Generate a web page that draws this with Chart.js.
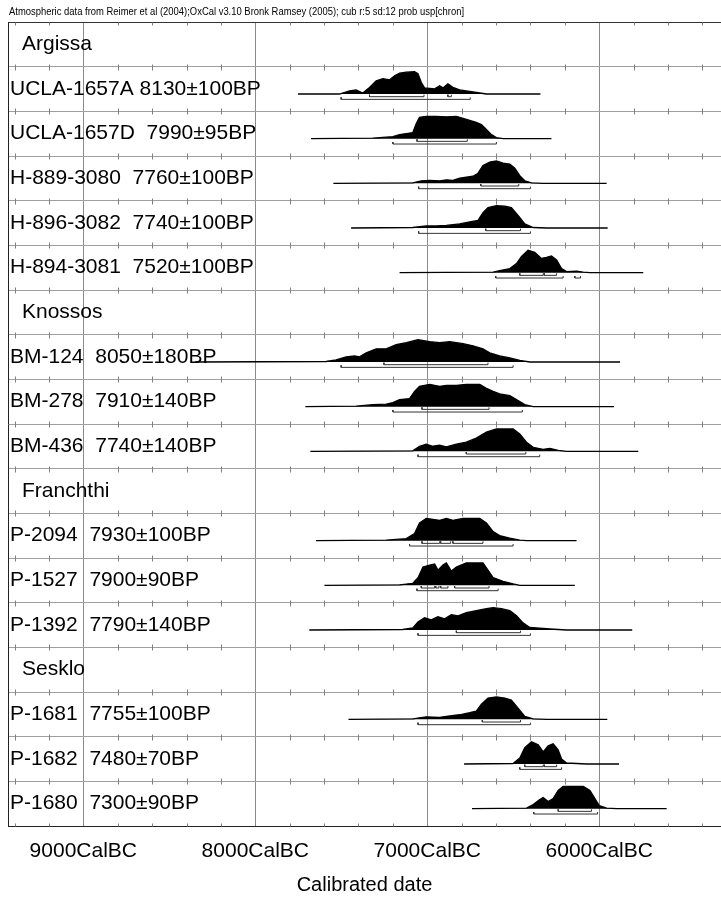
<!DOCTYPE html>
<html>
<head>
<meta charset="utf-8">
<script src="https://cdn.jsdelivr.net/npm/chart.js@4.4.1/dist/chart.umd.min.js"></script>
<style>
  html, body { margin: 0; padding: 0; background: #fff; }
  canvas { display: block; }
</style>
</head>
<body>
<canvas id="oxcal" width="721" height="899"></canvas>
<script>
const FONT = '"Liberation Sans", Arial, sans-serif';

const headerNote = "Atmospheric data from Reimer et al (2004);OxCal v3.10 Bronk Ramsey (2005); cub r:5 sd:12 prob usp[chron]";

// one entry per row, top to bottom
const rowLabels = [
  "Argissa",
  "UCLA-1657A 8130±100BP",
  "UCLA-1657D  7990±95BP",
  "H-889-3080  7760±100BP",
  "H-896-3082  7740±100BP",
  "H-894-3081  7520±100BP",
  "Knossos",
  "BM-124  8050±180BP",
  "BM-278  7910±140BP",
  "BM-436  7740±140BP",
  "Franchthi",
  "P-2094  7930±100BP",
  "P-1527  7900±90BP",
  "P-1392  7790±140BP",
  "Sesklo",
  "P-1681  7755±100BP",
  "P-1682  7480±70BP",
  "P-1680  7300±90BP"
];
const headerRows = [0, 6, 10, 14];

// cal BC
const tickYears = [9400, 9200, 9000, 8800, 8600, 8400, 8200, 8000, 7800, 7600, 7400,
                   7200, 7000, 6800, 6600, 6400, 6200, 6000, 5800, 5600, 5400];

// probability curves (years cal BC, relative height)
const uclaAYears = [7752, 7511, 7452, 7414, 7375, 7336, 7297, 7258, 7219, 7190, 7161, 7122, 7074, 7054, 7035, 7016, 6986, 6957, 6928, 6909, 6880, 6851, 6812, 6753, 6695, 6656, 6342];
const uclaAProb  = [0, 0, 6, 8, 2, 13, 26, 30, 28, 36, 41, 43, 44, 40, 23, 12, 11, 10, 16, 12, 20, 13, 8, 5, 2, 0, 0];
const uclaA68 = [[7336, 7019], [6880, 6860]];
const uclaA95 = [[7501, 6750]];

const uclaDYears = [7676, 7317, 7200, 7161, 7122, 7084, 7064, 7045, 7006, 6948, 6889, 6831, 6792, 6753, 6715, 6685, 6656, 6627, 6598, 6559, 6278];
const uclaDProb  = [0, 1, 4, 8, 10, 12, 30, 42, 44, 44, 43, 44, 40, 36, 32, 28, 18, 8, 2, 0, 0];
const uclaD68 = [[7060, 6767]];
const uclaD95 = [[7200, 6598]];

const h889Years = [7546, 7084, 7035, 6986, 6928, 6889, 6851, 6812, 6773, 6734, 6705, 6676, 6637, 6598, 6559, 6520, 6491, 6462, 6433, 6394, 6326, 5957];
const h889Prob  = [0, 1, 5, 6, 5, 7, 6, 10, 12, 14, 20, 35, 42, 44, 40, 38, 30, 15, 5, 1, 0, 0];
const h889R68 = [[6689, 6468]];
const h889R95 = [[7050, 6400]];

const h896Years = [7443, 7084, 7006, 6948, 6889, 6812, 6753, 6705, 6676, 6647, 6598, 6549, 6511, 6472, 6433, 6384, 6307, 5951];
const h896Prob  = [0, 1, 4, 4, 5, 8, 12, 15, 30, 40, 44, 43, 40, 25, 8, 1, 0, 0];
const h896R68 = [[6660, 6458]];
const h896R95 = [[7050, 6400]];

const h894Years = [7161, 6617, 6579, 6520, 6481, 6452, 6414, 6375, 6336, 6307, 6278, 6248, 6219, 6190, 6132, 6093, 6054, 5744];
const h894Prob  = [0, 1, 4, 8, 18, 32, 44, 40, 28, 30, 33, 25, 8, 2, 3, 1, 0, 0];
const h894R68 = [[6462, 6326], [6320, 6248]];
const h894R95 = [[6602, 6210], [6142, 6109]];

const bm124Years = [8350, 7588, 7530, 7472, 7423, 7394, 7355, 7297, 7239, 7181, 7122, 7054, 6986, 6928, 6870, 6792, 6734, 6676, 6637, 6579, 6520, 6462, 6404, 5879];
const bm124Prob  = [0, 1, 4, 10, 12, 10, 18, 26, 26, 34, 38, 44, 40, 38, 40, 36, 32, 26, 18, 12, 8, 3, 0, 0];
const bm124R68 = [[7252, 6647]];
const bm124R95 = [[7501, 6501]];

const bm278Years = [7709, 7414, 7317, 7239, 7200, 7161, 7103, 7074, 7045, 6986, 6928, 6889, 6831, 6773, 6695, 6656, 6617, 6579, 6520, 6472, 6433, 6384, 5914];
const bm278Prob  = [0, 1, 4, 5, 8, 14, 16, 30, 40, 44, 40, 42, 42, 44, 44, 36, 30, 25, 22, 12, 4, 0, 0];
const bm278R68 = [[7031, 6641]];
const bm278R95 = [[7200, 6447]];

const bm436Years = [7680, 7084, 7045, 7006, 6967, 6928, 6889, 6831, 6773, 6715, 6656, 6598, 6501, 6462, 6423, 6384, 6326, 6287, 6239, 6190, 5773];
const bm436Prob  = [0, 1, 10, 14, 10, 12, 9, 14, 18, 26, 38, 44, 44, 34, 18, 8, 4, 6, 2, 0, 0];
const bm436R68 = [[6773, 6427]];
const bm436R95 = [[7054, 6346]];

const p2094Years = [7647, 7239, 7122, 7074, 7045, 7006, 6967, 6928, 6889, 6851, 6792, 6695, 6656, 6617, 6579, 6520, 6462, 6423, 6132];
const p2094Prob  = [0, 1, 4, 14, 35, 44, 42, 40, 44, 40, 44, 44, 35, 18, 10, 5, 1, 0, 0];
const p2094R68 = [[7031, 6928], [6922, 6864], [6851, 6676]];
const p2094R95 = [[7103, 6501]];

const p1527Years = [7598, 7161, 7084, 7054, 7025, 6986, 6957, 6938, 6909, 6889, 6860, 6831, 6773, 6676, 6647, 6617, 6559, 6501, 6462, 6142];
const p1527Prob  = [0, 1, 4, 15, 36, 40, 42, 30, 40, 44, 28, 36, 44, 44, 30, 15, 8, 3, 0, 0];
const p1527R68 = [[7035, 6957], [6951, 6932], [6922, 6880], [6841, 6641]];
const p1527R95 = [[7060, 6588]];

const p1392Years = [7686, 7142, 7084, 7054, 7016, 6977, 6938, 6899, 6860, 6821, 6773, 6715, 6656, 6617, 6569, 6520, 6481, 6443, 6404, 6287, 6190, 5808];
const p1392Prob  = [0, 1, 4, 16, 24, 20, 26, 22, 30, 28, 34, 38, 42, 44, 42, 38, 28, 14, 5, 2, 0, 0];
const p1392R68 = [[6831, 6458]];
const p1392R95 = [[7054, 6400]];

const p1681Years = [7458, 7084, 7006, 6928, 6889, 6812, 6753, 6715, 6685, 6647, 6598, 6549, 6511, 6472, 6433, 6384, 6307, 5953];
const p1681Prob  = [0, 1, 5, 4, 6, 9, 13, 16, 30, 42, 44, 42, 38, 22, 6, 1, 0, 0];
const p1681R68 = [[6680, 6458]];
const p1681R95 = [[7054, 6400]];

const p1682Years = [6786, 6501, 6462, 6433, 6394, 6355, 6326, 6297, 6268, 6239, 6219, 6190, 6132, 6074, 5885];
const p1682Prob  = [0, 1, 12, 32, 44, 38, 24, 36, 40, 28, 10, 2, 1, 0, 0];
const p1682R68 = [[6433, 6326], [6320, 6248]];
const p1682R95 = [[6462, 6219]];

const p1680Years = [6740, 6423, 6384, 6346, 6326, 6297, 6268, 6239, 6210, 6093, 6054, 6025, 6000, 5957, 5899, 5608];
const p1680Prob  = [0, 1, 8, 18, 22, 14, 20, 36, 44, 44, 36, 20, 6, 1, 0, 0];
const p1680R68 = [[6239, 6045]];
const p1680R95 = [[6381, 6010]];

const samples = [
  { row: 1,  years: uclaAYears, prob: uclaAProb, r68: uclaA68, r95: uclaA95 },
  { row: 2,  years: uclaDYears, prob: uclaDProb, r68: uclaD68, r95: uclaD95 },
  { row: 3,  years: h889Years,  prob: h889Prob,  r68: h889R68, r95: h889R95 },
  { row: 4,  years: h896Years,  prob: h896Prob,  r68: h896R68, r95: h896R95 },
  { row: 5,  years: h894Years,  prob: h894Prob,  r68: h894R68, r95: h894R95 },
  { row: 7,  years: bm124Years, prob: bm124Prob, r68: bm124R68, r95: bm124R95 },
  { row: 8,  years: bm278Years, prob: bm278Prob, r68: bm278R68, r95: bm278R95 },
  { row: 9,  years: bm436Years, prob: bm436Prob, r68: bm436R68, r95: bm436R95 },
  { row: 11, years: p2094Years, prob: p2094Prob, r68: p2094R68, r95: p2094R95 },
  { row: 12, years: p1527Years, prob: p1527Prob, r68: p1527R68, r95: p1527R95 },
  { row: 13, years: p1392Years, prob: p1392Prob, r68: p1392R68, r95: p1392R95 },
  { row: 15, years: p1681Years, prob: p1681Prob, r68: p1681R68, r95: p1681R95 },
  { row: 16, years: p1682Years, prob: p1682Prob, r68: p1682R68, r95: p1682R95 },
  { row: 17, years: p1680Years, prob: p1680Prob, r68: p1680R68, r95: p1680R95 }
];

// row geometry, in row units
const BASE = 0.612;   // baseline of curve inside the row
const PEAK = 0.5;     // height of the tallest point
const OFF68 = 0.06, OFF95 = 0.12, CAP = 0.045;

const datasets = [];
samples.forEach(s => {
  const base = s.row + BASE;
  const top = Math.max(...s.prob);
  datasets.push({
    data: s.years.map((yr, i) => ({ x: yr, y: base - s.prob[i] / top * PEAK })),
    showLine: true,
    fill: { value: base },
    borderColor: '#000',
    backgroundColor: '#000',
    borderWidth: 1.3,
    pointRadius: 0,
    tension: 0
  });
  [[s.r68, OFF68], [s.r95, OFF95]].forEach(([ranges, off]) => {
    const y = base + off;
    const pts = [];
    ranges.forEach(([a, b]) => {
      pts.push({ x: a, y: y - CAP }, { x: a, y: y }, { x: b, y: y }, { x: b, y: y - CAP }, { x: b, y: null });
    });
    datasets.push({
      data: pts,
      showLine: true,
      fill: false,
      borderColor: '#333',
      borderWidth: 1,
      pointRadius: 0,
      spanGaps: false
    });
  });
});

// small tick marks along every row line
const rowTicks = {
  id: 'rowTicks',
  beforeDatasetsDraw(chart) {
    const { ctx, scales: { x, y } } = chart;
    const n = rowLabels.length;
    ctx.save();
    ctx.strokeStyle = '#808080';
    ctx.lineWidth = 1;
    for (let k = 0; k <= n; k++) {
      const py = Math.round(y.getPixelForValue(k)) + 0.5;
      const up = k === 0 ? 0 : 3;
      const down = k === n ? 0 : 3;
      tickYears.forEach(t => {
        if (t % 1000 === 0) return;
        const px = Math.round(x.getPixelForValue(t)) + 0.5;
        ctx.beginPath();
        ctx.moveTo(px, py - up);
        ctx.lineTo(px, py + down);
        ctx.stroke();
      });
    }
    ctx.restore();
  }
};

// row names and the note at the top
const rowText = {
  id: 'rowText',
  afterDraw(chart) {
    const { ctx, chartArea, scales: { y } } = chart;
    ctx.save();
    ctx.fillStyle = '#000';
    ctx.textBaseline = 'middle';
    ctx.font = '21px ' + FONT;
    rowLabels.forEach((t, i) => {
      const x = chartArea.left + (headerRows.includes(i) ? 14 : 2);
      ctx.fillText(t, x, y.getPixelForValue(i + 0.5));
    });
    ctx.font = '10px "Liberation Sans Narrow", ' + FONT;
    const w = ctx.measureText(headerNote).width;
    ctx.translate(9, 12.5);
    ctx.scale(455 / w, 1);
    ctx.fillText(headerNote, 0, 0);
    ctx.restore();
  }
};

new Chart(document.getElementById('oxcal'), {
  type: 'scatter',
  data: { datasets: datasets },
  options: {
    responsive: false,
    animation: false,
    devicePixelRatio: 1,
    events: [],
    layout: { padding: { left: 8, top: 22, right: 0, bottom: 0 } },
    plugins: {
      legend: { display: false },
      tooltip: { enabled: false }
    },
    scales: {
      x: {
        type: 'linear',
        reverse: true,
        min: 5292,
        max: 9438,
        afterBuildTicks: s => { s.ticks = tickYears.map(v => ({ value: v })); },
        afterFit: s => { s.height = 73; },
        grid: {
          color: c => (c.tick && c.tick.value % 1000 === 0) ? '#8a8a8a' : 'rgba(0,0,0,0)',
          drawTicks: false
        },
        border: { color: '#222', width: 1 },
        ticks: {
          callback: v => v % 1000 === 0 ? v + 'CalBC' : '',
          autoSkip: false,
          maxRotation: 0,
          minRotation: 0,
          padding: 13,
          color: '#000',
          font: { family: FONT, size: 21 }
        },
        title: {
          display: true,
          text: 'Calibrated date',
          color: '#000',
          font: { family: FONT, size: 20 },
          padding: { top: 0, bottom: 2 }
        }
      },
      y: {
        type: 'linear',
        reverse: true,
        min: 0,
        max: rowLabels.length,
        afterBuildTicks: s => { s.ticks = rowLabels.map((_, i) => ({ value: i })).concat([{ value: rowLabels.length }]); },
        afterFit: s => { s.width = 0; },
        ticks: { display: false },
        grid: {
          color: c => (c.tick && c.tick.value === 0) ? '#333' : '#a0a0a0',
          drawTicks: false
        },
        border: { color: '#222', width: 1 }
      }
    }
  },
  plugins: [rowTicks, rowText]
});
</script>
</body>
</html>
